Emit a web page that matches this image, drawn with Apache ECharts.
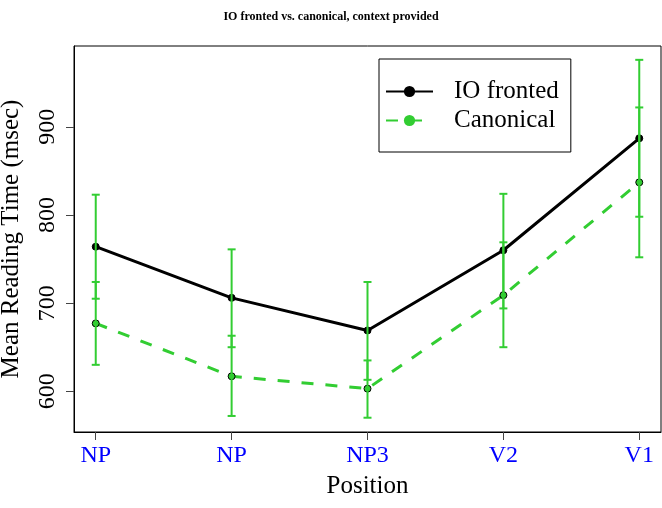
<!DOCTYPE html>
<html><head><meta charset="utf-8">
<script src="https://cdn.jsdelivr.net/npm/echarts@6/dist/echarts.min.js"></script>
<style>html,body{margin:0;padding:0;background:#fff}#c{width:662px;height:508px}</style>
</head><body><div id="c"></div>
<script>
const categories = ['NP', 'NP', 'NP3', 'V2', 'V1'];
const positions = [1, 2, 3, 4, 5];
const yTicks = [600, 700, 800, 900];
const ioMean = [764, 706, 669, 760, 887];
const ioLow = [705, 650, 613, 694, 798];
const ioHigh = [823, 761, 724, 824, 976];
const canMean = [677, 617, 603, 709, 837];
const canLow = [630, 572, 570, 650, 752];
const canHigh = [724, 663, 635, 769, 922];

const GREEN = '#32CD32';
const FONT = 'Liberation Serif';

function errBars(low, high) {
  return positions.map((p, i) => [p, low[i], high[i]]);
}
function renderErr(params, api) {
  const x = api.value(0), lo = api.value(1), hi = api.value(2);
  const a = api.coord([x, lo]), b = api.coord([x, hi]);
  const w = 4;
  const st = { stroke: GREEN, lineWidth: 2 };
  return { type: 'group', children: [
    { type: 'line', shape: { x1: a[0], y1: a[1], x2: b[0], y2: b[1] }, style: st },
    { type: 'line', shape: { x1: a[0]-w, y1: a[1], x2: a[0]+w, y2: a[1] }, style: st },
    { type: 'line', shape: { x1: b[0]-w, y1: b[1], x2: b[0]+w, y2: b[1] }, style: st }
  ]};
}

const chart = echarts.init(document.getElementById('c'), null, { renderer: 'canvas' });
chart.setOption({
  animation: false,
  backgroundColor: '#fff',
  title: {
    text: 'IO fronted vs. canonical, context provided',
    left: 'center', top: 6,
    textStyle: { fontFamily: FONT, fontSize: 12, fontWeight: 'bold', color: '#000' }
  },
  legend: {
    orient: 'vertical',
    left: 379, top: 59,
    padding: [20, 12, 19, 6],
    itemGap: 4,
    itemWidth: 47, itemHeight: 14,
    borderColor: '#000', borderWidth: 1,
    textStyle: { fontFamily: FONT, fontSize: 25, color: '#000', padding: [0, 0, 0, 16], lineHeight: 25 },
    data: [
      { name: 'IO fronted', itemStyle: { color: '#000', borderWidth: 0 } },
      { name: 'Canonical', itemStyle: { color: GREEN, borderWidth: 0 } }
    ]
  },
  grid: { left: 74, top: 46, right: 1, bottom: 76, show: true, borderColor: '#000', borderWidth: 1, containLabel: false, outerBoundsMode: 'none' },
  xAxis: {
    type: 'value', min: 0.84, max: 5.16,
    name: 'Position', nameLocation: 'middle', nameGap: 42,
    nameTextStyle: { fontFamily: FONT, fontSize: 25, color: '#000' },
    axisLine: { show: true, lineStyle: { color: '#000', width: 1 } },
    axisTick: { show: true, length: 8, customValues: positions, lineStyle: { color: '#444' } },
    axisLabel: {
      customValues: positions, margin: 12,
      fontFamily: FONT, fontSize: 24, color: '#0000FF',
      formatter: v => categories[Math.round(v) - 1]
    },
    splitLine: { show: false }
  },
  yAxis: {
    type: 'value', min: 553.8, max: 991.7,
    name: 'Mean Reading Time (msec)', nameLocation: 'middle', nameGap: 50, nameRotate: 90,
    nameTextStyle: { fontFamily: FONT, fontSize: 25, color: '#000' },
    axisLine: { show: true, lineStyle: { color: '#000', width: 1 } },
    axisTick: { show: true, length: 8, customValues: yTicks, lineStyle: { color: '#444' } },
    axisLabel: {
      customValues: yTicks, rotate: 90, margin: 14,
      fontFamily: FONT, fontSize: 24, color: '#000'
    },
    splitLine: { show: false }
  },
  series: [
    {
      name: 'IO fronted', type: 'line', z: 3,
      data: positions.map((p, i) => [p, ioMean[i]]),
      symbol: 'circle', symbolSize: 7,
      lineStyle: { color: '#000', width: 3 },
      itemStyle: { color: '#000', borderColor: '#000', borderWidth: 1 }
    },
    {
      name: 'Canonical', type: 'line', z: 3,
      data: positions.map((p, i) => [p, canMean[i]]),
      symbol: 'circle', symbolSize: 7,
      lineStyle: { color: GREEN, width: 3, type: [12, 12] },
      itemStyle: { color: GREEN, borderColor: '#000', borderWidth: 1 }
    },
    { name: 'ioErr', type: 'custom', z: 4, renderItem: renderErr, data: errBars(ioLow, ioHigh), encode: { x: 0, y: [1, 2] } },
    { name: 'canErr', type: 'custom', z: 4, renderItem: renderErr, data: errBars(canLow, canHigh), encode: { x: 0, y: [1, 2] } }
  ]
});
</script></body></html>
